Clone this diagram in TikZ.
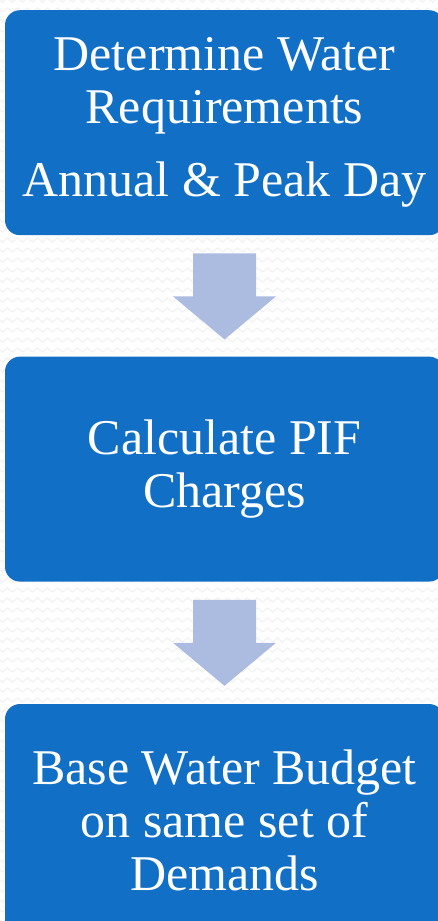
\documentclass[tikz,border=0pt]{standalone}
\usepackage{fontspec}
\setmainfont{Liberation Serif}
\usetikzlibrary{positioning,calc,decorations.pathmorphing}

\definecolor{stepblue}{HTML}{1170C6}
\definecolor{arrowblue}{HTML}{ACBBE0}
\definecolor{wavegray}{HTML}{EEEEEE}

\tikzset{
	stepbox/.style = {fill=stepblue, rounded corners=15pt, minimum width=439pt,
		minimum height=225pt, align=center, text=white, inner sep=0pt,
		font=\fontsize{50}{53}\selectfont},
	flowarrow/.style = {fill=arrowblue},
	wave/.style = {draw=wavegray, line width=0.8pt,
		decorate, decoration={zigzag, segment length=10pt, amplitude=2pt}}
}

\begin{document}
\begin{tikzpicture}[x=1pt, y=1pt, node distance=121pt]
		\useasboundingbox (0,0) rectangle (437,-921);
		\fill[white] (0,0) rectangle (437,-921);
		% background pattern
		\foreach \row in {0,10,...,920}
			\draw[wave] (-5,-\row) -- (445,-\row);
		\node[stepbox, anchor=north] (demand) at (224.5,-10)
			{Determine Water\\Requirements\\[20pt]Annual \& Peak Day};
		\node[stepbox, below=of demand] (pif) {Calculate PIF\\Charges};
		\node[stepbox, below=122pt of pif, minimum height=232pt] (budget)
			{Base Water Budget\\on same set of\\Demands};
		\foreach \a/\b in {demand/pif, pif/budget} {
			\coordinate (top) at ($(\a.south)+(0,-18)$);
			\fill[flowarrow] (top) ++(-31.5,0) -- ++(63,0) -- ++(0,-43) -- ++(20,0)
				-- ++(-51.5,-43) -- ++(-51.5,43) -- ++(20,0) -- cycle;
		}
	\end{tikzpicture}
\end{document}
